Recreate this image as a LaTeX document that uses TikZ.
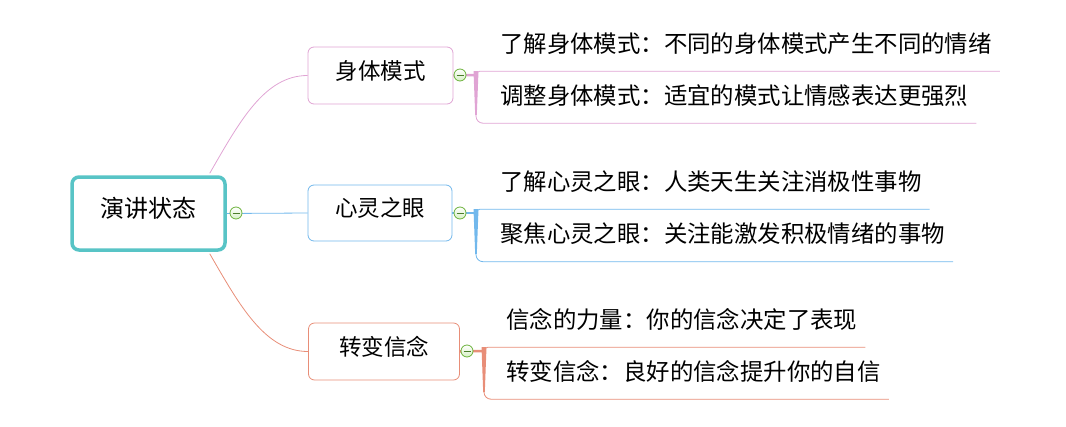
\documentclass[tikz,border=0pt]{standalone}
\usepackage{fontspec}
\setmainfont{Noto Sans CJK SC}
\usetikzlibrary{calc}
\usetikzlibrary{positioning}

\definecolor{rootc}{RGB}{88,196,198}
\definecolor{pinkc}{RGB}{224,164,212}
\definecolor{bluec}{RGB}{114,184,236}
\definecolor{salmc}{RGB}{232,142,120}
\definecolor{foldc}{RGB}{108,178,60}
\definecolor{foldf}{RGB}{214,240,196}

\begin{document}
\begin{tikzpicture}[x=1pt,y=-1pt,
  topic/.style={draw,fill=white,rounded corners=6pt,line width=0.8pt,minimum height=57pt,
    font=\fontsize{22.5}{26}\selectfont,text height=0.85em,text depth=0.15em},
  leaf/.style={anchor=west,inner xsep=8pt,minimum height=45pt,
    font=\fontsize{23.4}{27}\selectfont,text height=0.85em,text depth=0.15em},
  fold/.style={circle,draw=foldc,top color=white,bottom color=foldf,line width=0.8pt,
    minimum size=12pt,inner sep=0pt}]
\useasboundingbox (0,0) rectangle (1066,426);
% central topic
\node[draw=rootc,fill=white,line width=3.5pt,rounded corners=7pt,minimum width=153pt,minimum height=73pt,
  font=\fontsize{24}{28}\selectfont,text height=0.85em,text depth=0.15em] (root) at (148.5,213.5) {演讲状态};
% main topics
\node[topic,draw=pinkc,minimum width=145pt] (t1) at (380.5,75.5) {身体模式};
\node[topic,draw=bluec,minimum width=144pt,minimum height=56pt] (t2) at (380,213) {心灵之眼};
\node[topic,draw=salmc,minimum width=151pt] (t3) at (384,351.5) {转变信念};
% subtopics
\node[leaf] (l11) at (492,48.5) {了解身体模式：不同的身体模式产生不同的情绪};
\node[leaf] (l12) at (492,100.5) {调整身体模式：适宜的模式让情感表达更强烈};
\node[leaf] (l21) at (492,186.5) {了解心灵之眼：人类天生关注消极性事物};
\node[leaf] (l22) at (492,239) {聚焦心灵之眼：关注能激发积极情绪的事物};
\node[leaf] (l31) at (498,324.5) {信念的力量：你的信念决定了表现};
\node[leaf] (l32) at (498,376.5) {转变信念：良好的信念提升你的自信};
% branch joints
\coordinate (k1) at (476,75);
\coordinate (k2) at (476,213);
\coordinate (k3) at (484,351);

% root -> topics
\draw[pinkc,line width=0.8pt] ([xshift=-17pt,yshift=2pt]root.north east) .. controls +(30,-52) and +(-43,0) .. (t1.west);
\draw[bluec,line width=0.8pt] (root.east) -- (t2.west);
\draw[salmc,line width=0.8pt] ([xshift=-17pt,yshift=-2pt]root.south east) .. controls +(30,52) and +(-43,0) .. (t3.west);

% topic -> subtopics
\draw[pinkc,line width=2.5pt] (t1.east) -- (k1);
\fill[pinkc] ([xshift=-2.5pt,yshift=4pt]k1) -- ([xshift=2.5pt,yshift=4pt]k1) -- ([xshift=0.8pt,yshift=-40pt]k1) -- ([xshift=-0.8pt,yshift=-40pt]k1) -- cycle;
\draw[pinkc,line width=0.8pt,rounded corners=4pt] (k1) |- (l11.south east);
\draw[pinkc,line width=0.8pt,rounded corners=7pt] (k1) |- (l12.south east);

\draw[bluec,line width=2.5pt] (t2.east) -- (k2);
\fill[bluec] ([xshift=-2.5pt,yshift=4pt]k2) -- ([xshift=2.5pt,yshift=4pt]k2) -- ([xshift=0.8pt,yshift=-41pt]k2) -- ([xshift=-0.8pt,yshift=-41pt]k2) -- cycle;
\draw[bluec,line width=0.8pt,rounded corners=4pt] (k2) |- (l21.south east);
\draw[bluec,line width=0.8pt,rounded corners=7pt] (k2) |- (l22.south east);

\draw[salmc,line width=2.5pt] (t3.east) -- (k3);
\fill[salmc] ([xshift=-2.5pt,yshift=4pt]k3) -- ([xshift=2.5pt,yshift=4pt]k3) -- ([xshift=0.8pt,yshift=-41pt]k3) -- ([xshift=-0.8pt,yshift=-41pt]k3) -- cycle;
\draw[salmc,line width=0.8pt,rounded corners=4pt] (k3) |- (l31.south east);
\draw[salmc,line width=0.8pt,rounded corners=7pt] (k3) |- (l32.south east);

% collapse buttons
\foreach \n/\p in {f0/{(236,213)},f1/{(460,75)},f2/{(460,213)},f3/{(467,351)}}{
  \node[fold] (\n) at \p {};
  \draw[foldc!70!black,line width=0.9pt] ([xshift=-3.5pt]\n.center) -- ([xshift=3.5pt]\n.center);
}
\end{tikzpicture}
\end{document}
